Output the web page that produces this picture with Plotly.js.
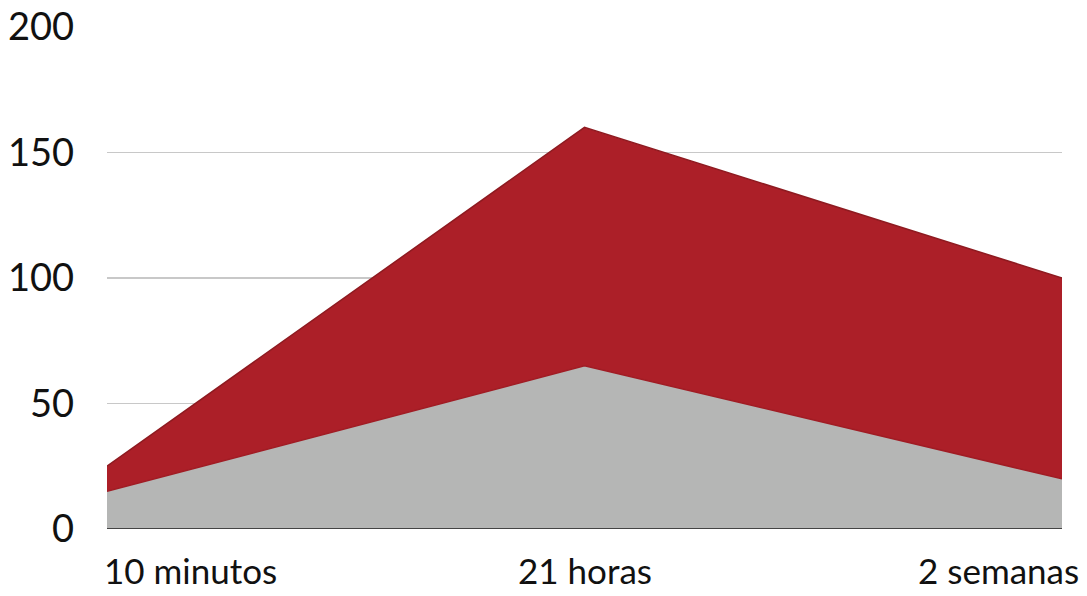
<!DOCTYPE html>
<html>
<head>
<meta charset="utf-8">
<script src="https://cdn.plot.ly/plotly-3.0.1.min.js"></script>
<style>html,body{margin:0;padding:0;background:#fff;}#chart{width:1087px;height:596px;}</style>
</head>
<body>
<div id="chart"></div>
<script>
const categories = ["10 minutos", "21 horas", "2 semanas"];
const grayValues = [15, 65, 20];
const redValues = [10, 95, 80];
const yTickVals = [0, 50, 100, 150, 200];
const yTickText = ["0", "50", "100", "150", "200"];

const xIdx = categories.map((c, i) => i);

const traces = [
  {
    x: xIdx, y: grayValues, type: "scatter", mode: "lines",
    stackgroup: "one", fillcolor: "#b5b6b5",
    line: {color: "#a01c24", width: 1.5}, hoverinfo: "skip"
  },
  {
    x: xIdx, y: redValues, type: "scatter", mode: "lines",
    stackgroup: "one", fillcolor: "#ac1f28",
    line: {color: "#8e1a20", width: 1.5}, hoverinfo: "skip"
  }
];

const anchors = ["left", "center", "right"];
const xshifts = [-4, 0, 18];
const annotations = categories.map((c, i) => ({
  x: i, y: 0, xref: "x", yref: "paper", yanchor: "top", yshift: -19,
  xanchor: anchors[i], xshift: xshifts[i], text: c, showarrow: false,
  borderpad: 0,
  font: {family: "Lato, 'Open Sans', sans-serif", size: 35, color: "#111"}
}));

const layout = {
  width: 1087, height: 596,
  margin: {l: 107, r: 25, t: 27, b: 67},
  paper_bgcolor: "#fff", plot_bgcolor: "#fff",
  showlegend: false,
  xaxis: {
    range: [0, categories.length - 1], showticklabels: false,
    showgrid: false, zeroline: false, showline: false, fixedrange: true
  },
  yaxis: {
    range: [0, 200], tickvals: yTickVals, ticktext: yTickText,
    showgrid: true, gridcolor: "#c8c8c8", gridwidth: 1.3,
    zeroline: false, showline: false, ticks: "",
    ticklabelstandoff: 32,
    tickfont: {family: "Lato, 'Open Sans', sans-serif", size: 38, color: "#111"}
  },
  shapes: [{
    type: "line", xref: "paper", yref: "y", x0: 0, x1: 1, y0: 0, y1: 0,
    line: {color: "#444", width: 2}
  }],
  annotations: annotations
};

Plotly.newPlot("chart", traces, layout, {displayModeBar: false, staticPlot: true});
</script>
</body>
</html>
